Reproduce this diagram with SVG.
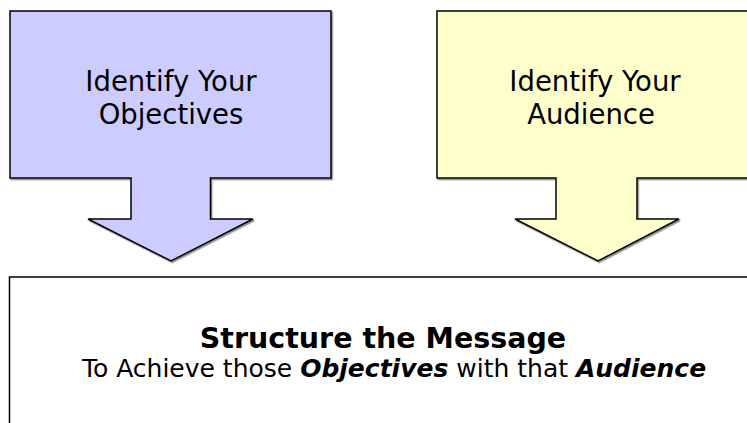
<svg xmlns="http://www.w3.org/2000/svg" width="747" height="423" viewBox="0 0 747 423">
<style>
.sh{stroke:#000;stroke-width:1.5;stroke-linejoin:miter}
.t{font-family:"DejaVu Sans",Tahoma,Verdana,sans-serif;fill:#000;text-anchor:middle}
.big{font-size:27.5px}
.title{font-size:28.5px;font-weight:bold}
.sub{font-size:25px}
.it{font-style:italic;font-weight:bold}
</style>
<defs>
<filter id="shd" x="-5%" y="-5%" width="110%" height="110%">
<feDropShadow dx="1.2" dy="1.5" stdDeviation="0.4" flood-color="#444" flood-opacity="0.6"/>
</filter>
</defs>
<rect width="747" height="423" fill="#fff"/>
<g id="objectives">
<path class="sh" fill="#ccccff" filter="url(#shd)" d="M10,11 H331 V178 H210.5 V219 H253 L171,261 L88,219 H131 V178 H10 Z"/>
<text class="t big" x="171" y="91">Identify Your</text>
<text class="t big" x="171" y="124">Objectives</text>
</g>
<g id="audience">
<path class="sh" fill="#ffffcc" filter="url(#shd)" d="M437,11 H752 V178 H637 V219 H679 L598,261 L515,219 H556 V178 H437 Z"/>
<text class="t big" x="595" y="91">Identify Your</text>
<text class="t big" x="591" y="124">Audience</text>
</g>
<g id="connectors"></g>
<g id="message">
<rect class="sh" filter="url(#shd)" x="9.5" y="277" width="760" height="160" fill="#fff"/>
<text class="t title" x="383" y="348">Structure the Message</text>
<text class="t sub" x="394" y="377">To Achieve those <tspan class="it">Objectives</tspan> with that <tspan class="it">Audience</tspan></text>
</g>
</svg>
